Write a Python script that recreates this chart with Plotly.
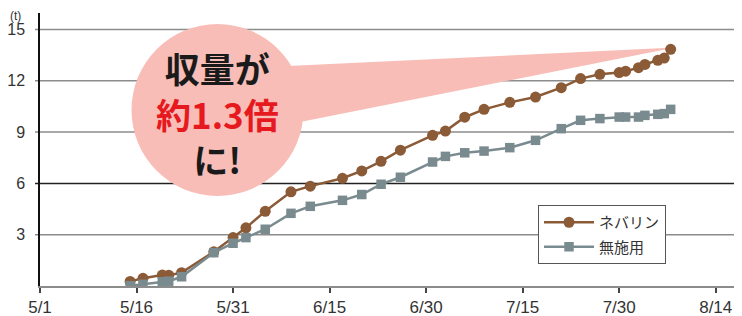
import plotly.graph_objects as go

# ---- data ----
dates = ["2023-05-15", "2023-05-17", "2023-05-20", "2023-05-21", "2023-05-23",
         "2023-05-28", "2023-05-31", "2023-06-02", "2023-06-05", "2023-06-09",
         "2023-06-12", "2023-06-17", "2023-06-20", "2023-06-23", "2023-06-26",
         "2023-07-01", "2023-07-03", "2023-07-06", "2023-07-09", "2023-07-13",
         "2023-07-17", "2023-07-21", "2023-07-24", "2023-07-27", "2023-07-30",
         "2023-07-31", "2023-08-02", "2023-08-03", "2023-08-05", "2023-08-06",
         "2023-08-07"]
nebarin = [0.27, 0.45, 0.64, 0.63, 0.78, 2.0, 2.83, 3.40, 4.37, 5.51,
           5.84, 6.30, 6.73, 7.29, 7.94, 8.81, 9.06, 9.87, 10.33, 10.74,
           11.05, 11.60, 12.13, 12.38, 12.48, 12.56, 12.77, 12.96, 13.20, 13.33,
           13.84]
control = [0.02, 0.10, 0.25, 0.28, 0.54, 1.95, 2.50, 2.83, 3.32, 4.25,
           4.66, 5.01, 5.35, 5.95, 6.36, 7.25, 7.58, 7.79, 7.89, 8.09,
           8.52, 9.20, 9.69, 9.79, 9.88, 9.88, 9.88, 9.98, 10.04, 10.08,
           10.33]
series_names = ["ネバリン", "無施用"]
x_tickvals = ["2023-05-01", "2023-05-16", "2023-05-31", "2023-06-15",
              "2023-06-30", "2023-07-15", "2023-07-30", "2023-08-14"]
x_ticktext = ["5/1", "5/16", "5/31", "6/15", "6/30", "7/15", "7/30", "8/14"]
y_tickvals = [0, 3, 6, 9, 12, 15]
y_ticktext = ["", "3", "6", "9", "12", "15"]
callout_lines = ["収量が", "約1.3倍", "に!"]

# ---- layout geometry (page pixels; the page body has an 8px margin) ----
OFF = 8
W, H = 742 - OFF, 316 - OFF
PL, PR, PT, PB = 40, 742, 13, 286   # plot area in page pixels


def dx(px):
    return (px - PL) / (PR - PL)


def dy(py):
    return (PB - py) / (PB - PT)


BROWN = "#8b5a36"
GRAY = "#7a8b90"
PINK = "#f8bdb7"
GRID = "#8c8c8c"
RED = "#e6191f"

fig = go.Figure()
fig.add_trace(go.Scatter(
    x=dates, y=nebarin, name=series_names[0], mode="lines+markers",
    line=dict(color=BROWN, width=2.5),
    marker=dict(symbol="circle", size=11, color=BROWN),
    legendgroup="a"))
fig.add_trace(go.Scatter(
    x=dates, y=control, name=series_names[1], mode="lines+markers",
    line=dict(color=GRAY, width=2.5),
    marker=dict(symbol="square", size=9.5, color=GRAY),
    legendgroup="b"))

# gridlines drawn as shapes so the bubble can sit on top of them
for v in y_tickvals[1:]:
    fig.add_shape(type="line", xref="paper", yref="y", x0=dx(35), x1=1, y0=v, y1=v,
                  line=dict(color="#222222" if v == 6 else GRID, width=1.5),
                  layer="below")

# callout bubble (decoration)
fig.add_shape(type="circle", xref="paper", yref="paper",
              x0=dx(131.5), x1=dx(303.5), y0=dy(196), y1=dy(24),
              fillcolor=PINK, line=dict(width=0), layer="below")
path = "M {:.4f},{:.4f} L {:.4f},{:.4f} L {:.4f},{:.4f} Z".format(
    dx(288), dy(66), dx(675), dy(47.5), dx(300), dy(122))
fig.add_shape(type="path", xref="paper", yref="paper", path=path,
              fillcolor=PINK, line=dict(width=0), layer="below")

callout_text = "<b>{}<br><span style='color:{}'>{}</span><br>{}</b>".format(
    callout_lines[0], RED, callout_lines[1], callout_lines[2])
fig.add_annotation(xref="paper", yref="paper", x=dx(217), y=dy(113),
                   text=callout_text, showarrow=False,
                   xanchor="center", yanchor="middle", align="center",
                   font=dict(family="Noto Sans CJK JP", size=35, color="#1a1a1a"))

fig.add_annotation(xref="paper", yref="paper", x=dx(9), y=dy(8),
                   text="(t)", showarrow=False, xanchor="left", yanchor="top",
                   borderpad=0,
                   font=dict(family="Liberation Sans", size=12, color="#333"))

fig.update_layout(
    width=W, height=H,
    margin=dict(l=PL - OFF, r=742 - PR, t=PT - OFF, b=316 - PB, autoexpand=False),
    paper_bgcolor="white", plot_bgcolor="white",
    font=dict(family="Liberation Sans", color="#333", size=16),
    showlegend=True,
    legend=dict(x=dx(538), y=dy(205), xanchor="left", yanchor="top",
                bgcolor="white", bordercolor="#555", borderwidth=1,
                font=dict(family="Noto Sans CJK JP", size=15, color="#333"),
                tracegroupgap=2, traceorder="grouped", itemwidth=50),
)
fig.update_xaxes(
    type="date", range=["2023-05-01", "2023-08-18 02:00"],
    tickvals=x_tickvals, ticktext=x_ticktext,
    showgrid=False, zeroline=False,
    showline=True, linecolor=GRID, linewidth=2,
    ticks="outside", ticklen=5, tickcolor="#444", tickwidth=1.5,
    tickfont=dict(size=17, color="#333"),
    ticklabeloverflow="allow",
)
fig.update_yaxes(
    range=[0, (PB - PT) / 17.1],
    tickvals=y_tickvals, ticktext=y_ticktext,
    showgrid=False,
    zeroline=False,
    showline=True, linecolor="#111", linewidth=1.5,
    ticks="", tickfont=dict(size=16, color="#333"),
    ticklabelstandoff=10,
)

fig.write_html("out.html")
